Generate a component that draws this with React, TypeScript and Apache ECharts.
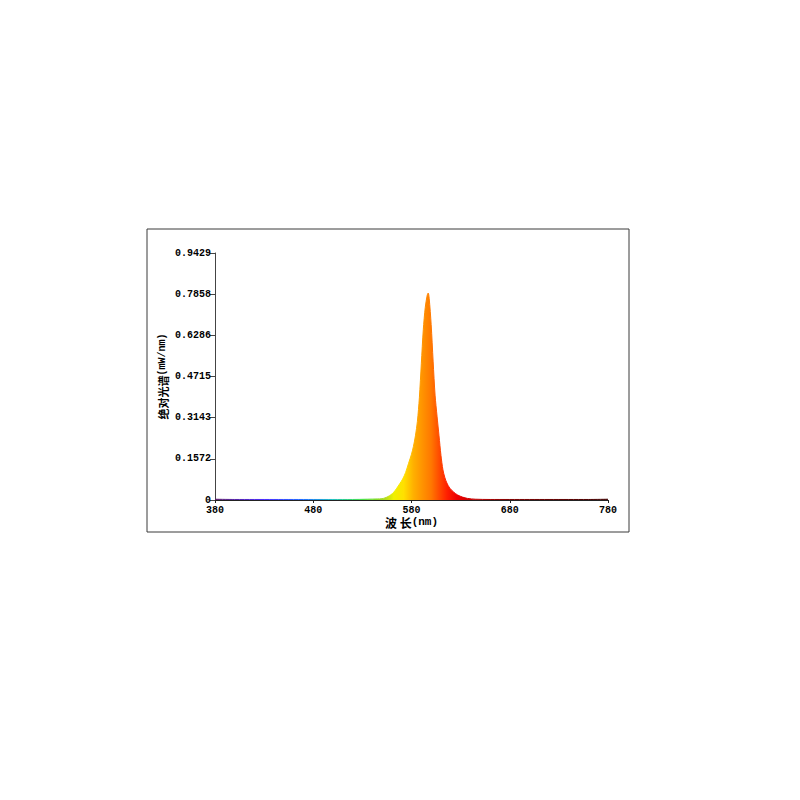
import { useEffect, useRef } from "react";
import * as echarts from "echarts";

// wavelength (nm) and absolute spectral power (mW/nm)
const wavelengths = [
  380, 400, 420, 440, 460, 480, 500, 520, 535, 545, 550, 553, 556, 559, 562, 565, 568, 571, 574, 577,
  580, 582, 584, 586, 588, 590, 592, 594, 596, 597, 598, 600, 602, 604, 606, 608, 610, 612, 614, 616,
  619, 623, 627, 632, 637, 645, 660, 680, 700, 720, 740, 760, 780,
];
const intensity = [
  0.003, 0.002, 0.002, 0.002, 0.002, 0.002, 0.002, 0.002, 0.003, 0.004, 0.005, 0.008, 0.013, 0.02, 0.03, 0.045, 0.062, 0.08, 0.105, 0.14,
  0.175, 0.205, 0.245, 0.3, 0.39, 0.52, 0.65, 0.735, 0.782, 0.79, 0.77, 0.67, 0.53, 0.4, 0.32, 0.245, 0.17, 0.115, 0.085, 0.065,
  0.045, 0.03, 0.019, 0.011, 0.006, 0.003, 0.002, 0.002, 0.002, 0.002, 0.002, 0.002, 0.003,
];
const yTickLabels = ["0", "0.1572", "0.3143", "0.4715", "0.6286", "0.7858", "0.9429"];
const xTickLabels = ["380", "480", "580", "680", "780"];

// spectrum colours by wavelength
const spectrumStops: [number, string][] = [
  [380, "#5a1a6a"],
  [430, "#4a2cff"],
  [470, "#1f6fff"],
  [500, "#20c0c0"],
  [530, "#40e040"],
  [552, "#a8d820"],
  [562, "#f0f000"],
  [572, "#ffe000"],
  [582, "#ffb000"],
  [592, "#ff9000"],
  [600, "#ff7800"],
  [608, "#ff4c00"],
  [616, "#ff2000"],
  [626, "#ee0000"],
  [645, "#c00000"],
  [680, "#800000"],
  [780, "#400000"],
];

const gradient = () =>
  new echarts.graphic.LinearGradient(
    0,
    0,
    1,
    0,
    spectrumStops.map(([w, c]) => ({ offset: (w - 380) / 400, color: c }))
  );

const mono = "'Liberation Mono', 'DejaVu Sans Mono', monospace";
const cjk = "'Noto Sans CJK SC', sans-serif";

export default function App() {
  const chartRef = useRef<HTMLDivElement | null>(null);

  useEffect(() => {
    if (!chartRef.current) return;
    const chart = echarts.init(chartRef.current, undefined, { renderer: "svg" });

    chart.setOption({
      animation: false,
      backgroundColor: "#fff",
      grid: { left: 215, right: 192, top: 253, bottom: 300, containLabel: false },
      graphic: [
        {
          type: "rect",
          shape: { x: 147, y: 229, width: 482, height: 303 },
          style: { fill: "none", stroke: "#3a3a3a", lineWidth: 1 },
          z: 0,
        },
      ],
      xAxis: {
        type: "value",
        min: 380,
        max: 780,
        interval: 100,
        name: "{a|波 长}{b|(nm)}",
        nameLocation: "middle",
        nameGap: 16,
        nameTextStyle: {
          rich: {
            a: { fontFamily: cjk, fontWeight: "bold", fontSize: 12, color: "#000" },
            b: { fontFamily: mono, fontWeight: "bold", fontSize: 11, color: "#000" },
          },
        },
        axisLine: { lineStyle: { color: "#222", width: 1 } },
        axisTick: { show: true, length: 3, inside: false, lineStyle: { color: "#222" } },
        axisLabel: {
          margin: 5,
          fontFamily: mono,
          fontWeight: "bold",
          fontSize: 10,
          color: "#000",
          formatter: (v: number) => xTickLabels[Math.round((v - 380) / 100)] ?? "",
        },
        splitLine: { show: false },
      },
      yAxis: {
        type: "value",
        min: 0,
        max: 0.9429,
        interval: 0.15715,
        name: "{a|绝对光谱}{b|(mW/nm)}",
        nameLocation: "middle",
        nameRotate: 90,
        nameGap: 47,
        nameTextStyle: {
          rich: {
            a: { fontFamily: cjk, fontWeight: "bold", fontSize: 11, color: "#000" },
            b: { fontFamily: mono, fontWeight: "bold", fontSize: 10, color: "#000" },
          },
        },
        axisLine: { show: true, lineStyle: { color: "#444", width: 1 } },
        axisTick: { show: true, length: 5, lineStyle: { color: "#444" } },
        axisLabel: {
          margin: 4,
          fontFamily: mono,
          fontWeight: "bold",
          fontSize: 10,
          color: "#000",
          formatter: (v: number) => yTickLabels[Math.round(v / 0.15715)] ?? "",
        },
        splitLine: { show: false },
      },
      series: [
        {
          type: "line",
          data: wavelengths.map((w, i) => [w, intensity[i]]),
          showSymbol: false,
          symbol: "none",
          smooth: 0.3,
          lineStyle: { width: 1, color: gradient() },
          areaStyle: { color: gradient(), opacity: 1 },
          z: 3,
        },
      ],
    });

    return () => chart.dispose();
  }, []);

  return (
    <div
      ref={chartRef}
      style={{ position: "fixed", left: 0, top: 0, width: 800, height: 800, background: "#fff" }}
    />
  );
}
